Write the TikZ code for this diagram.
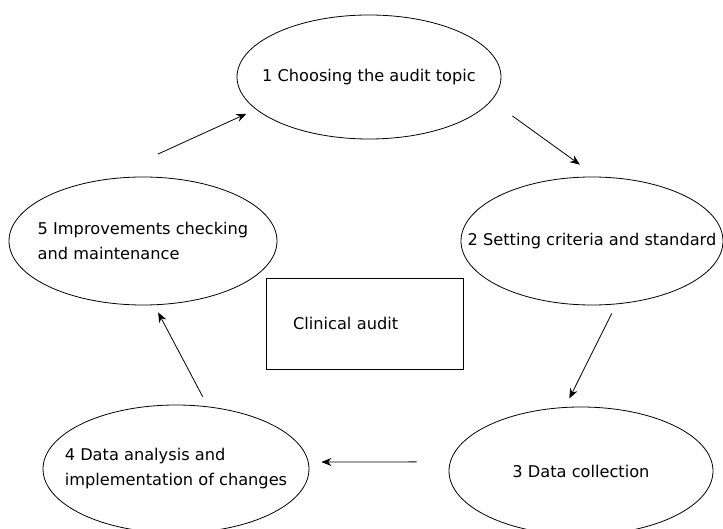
\documentclass[tikz,border=0pt]{standalone}
\usepackage{fontspec}
\setmainfont{DejaVu Sans}
\usetikzlibrary{shapes.geometric,arrows.meta}

\begin{document}
\begin{tikzpicture}[x=1pt, y=1pt, line width=0.8pt, font=\fontsize{16.2}{25}\selectfont,
  stage/.style={ellipse, draw, inner sep=-40pt, minimum width=264pt, minimum height=126pt, align=left},
  cyc/.style={-{Stealth[length=10pt,width=8pt]}}]
  \useasboundingbox (0,0) rectangle (723,528);
  % the five steps of the cycle
  \node[stage, minimum height=124pt] (e1) at (369,451) {1 Choosing the audit topic};
  \node[stage, minimum width=262pt, minimum height=128pt] (e2) at (592,287) {2 Setting criteria and standard};
  \node[stage, minimum height=128pt] (e3) at (581,57) {3 Data collection};
  \node[stage, minimum width=266pt, minimum height=128pt] (e4) at (176,59) {4 Data analysis and\\implementation of changes};
  \node[stage, minimum width=268pt, minimum height=128pt] (e5) at (143,287) {5 Improvements checking\\and maintenance};
  \node[draw, minimum width=197pt, minimum height=91pt, text width=143pt, inner xsep=27pt] (ca) at (364.5,204.5) {Clinical audit};
  % arrows round the cycle
  \foreach \a/\b/\p/\q in {e5.124/e1.196/61.7/10.4, e1.349/e2.86/26/20.5, e2.291/e3.104/10.2/9.6, e3.176/e4.3/33.3/12.8, e4.63/e5.280/11/8.2}
    \draw[cyc, shorten <=\p pt, shorten >=\q pt] (\a) -- (\b);
\end{tikzpicture}
\end{document}
